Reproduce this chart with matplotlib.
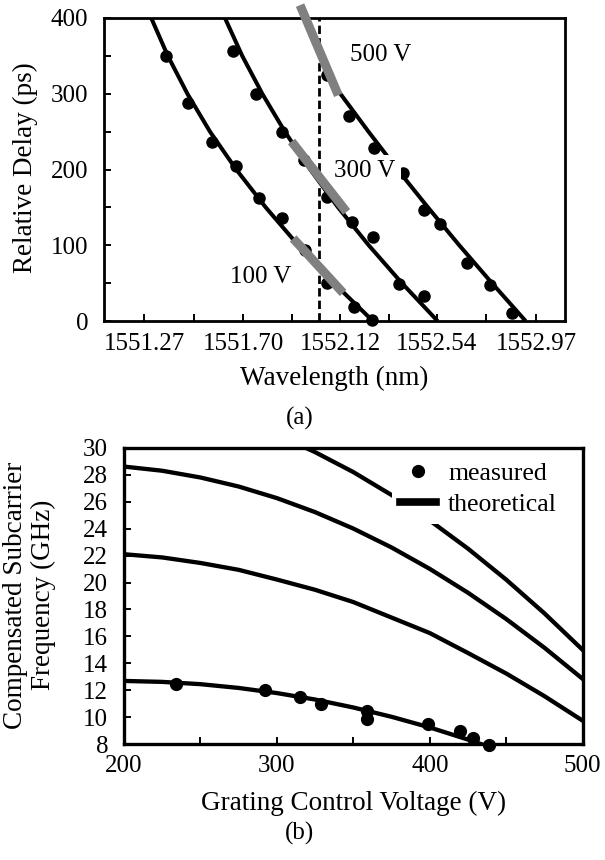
import matplotlib
matplotlib.use("Agg")
import matplotlib.pyplot as plt
from matplotlib.lines import Line2D
from matplotlib.ticker import FixedLocator, MultipleLocator

plt.rcParams["font.family"] = ["Liberation Serif", "DejaVu Serif"]

# ---------------- (a) relative delay versus wavelength ----------------
wl_ticks = [1551.27, 1551.70, 1552.12, 1552.54, 1552.97]
wl_tick_labels = ["1551.27", "1551.70", "1552.12", "1552.54", "1552.97"]

# theoretical delay curves (wavelength in nm at given delay in ps)
line100_ps = [0, 50, 100, 150, 200, 250, 300, 350, 400]
line100_wl = [1552.262, 1552.093, 1551.938, 1551.797, 1551.669, 1551.555, 1551.457, 1551.372, 1551.300]
line300_ps = [0, 50, 100, 150, 200, 250, 300, 350, 400]
line300_wl = [1552.543, 1552.388, 1552.244, 1552.111, 1551.990, 1551.880, 1551.782, 1551.695, 1551.620]
line500_ps = [0, 50, 100, 150, 200, 250, 300, 320]
line500_wl = [1552.925, 1552.779, 1552.637, 1552.501, 1552.369, 1552.243, 1552.121, 1552.072]

# measured delays
dots100_wl = [1551.364, 1551.461, 1551.565, 1551.666, 1551.767, 1551.866, 1551.967, 1552.061, 1552.181, 1552.259]
dots100_ps = [350, 288, 236, 204, 162, 136, 94, 50, 19, 1]
dots300_wl = [1551.656, 1551.753, 1551.866, 1551.964, 1552.065, 1552.172, 1552.263, 1552.375, 1552.483]
dots300_ps = [357, 300, 250, 213, 164, 131, 111, 49, 33]
dots500_wl = [1552.061, 1552.159, 1552.266, 1552.393, 1552.483, 1552.553, 1552.672, 1552.769, 1552.866]
dots500_ps = [325, 270, 228, 195, 147, 128, 77, 47.5, 10]

# local dispersion slope around the operating wavelength
slope500_wl = [1551.946, 1552.112]
slope500_ps = [417, 298]
slope300_wl = [1551.909, 1552.148]
slope300_ps = [237, 144]
slope100_wl = [1551.916, 1552.133]
slope100_ps = [109, 37]

operating_wl = 1552.03

voltage_labels = ["100 V", "300 V", "500 V"]
voltage_label_wl = [1551.777, 1552.228, 1552.297]
voltage_label_ps = [58, 198, 351]

# ---------------- (b) compensated frequency versus voltage ----------------
meas_v = [234, 292, 315, 329, 359, 359, 399, 420, 428, 439]
meas_f = [12.5, 12.0, 11.5, 11.0, 10.5, 9.9, 9.5, 9.0, 8.45, 7.95]

thA_v = [200, 225, 250, 275, 300, 325, 350, 375, 400, 425, 445]
thA_f = [12.70, 12.63, 12.46, 12.18, 11.80, 11.32, 10.73, 10.04, 9.25, 8.35, 7.56]
thB_v = [200, 225, 250, 275, 300, 325, 350, 375, 400, 425, 450, 475, 500]
thB_f = [22.10, 21.86, 21.45, 20.94, 20.22, 19.46, 18.55, 17.40, 16.25, 14.77, 13.25, 11.57, 9.75]
thC_v = [200, 225, 250, 275, 300, 325, 350, 375, 400, 425, 450, 475, 500]
thC_f = [28.60, 28.29, 27.79, 27.12, 26.26, 25.22, 24.00, 22.60, 21.01, 19.24, 17.29, 15.16, 12.85]
thD_v = [300, 325, 350, 375, 400, 425, 450, 475, 500]
thD_f = [30.96, 29.67, 28.19, 26.49, 24.60, 22.51, 20.21, 17.71, 15.00]

W, H = 605, 860
fig = plt.figure(figsize=(W / 100, H / 100), dpi=100)


def fx(px):
    return px / W


def fy(py):
    return 1 - py / H


FS = 18
LFS = 19.5
GRAY = "#808080"

# ---- panel (a) ----
ax1 = fig.add_axes([fx(104), fy(321), fx(565) - fx(104), fy(18) - fy(321)])
for wl, ps in [(line100_wl, line100_ps), (line300_wl, line300_ps), (line500_wl, line500_ps)]:
    ax1.plot(wl, ps, color="black", lw=2.9, solid_capstyle="butt", zorder=2)
for wl, ps in [(dots100_wl, dots100_ps), (dots300_wl, dots300_ps), (dots500_wl, dots500_ps)]:
    ax1.plot(wl, ps, ls="none", marker="o", ms=8, color="black", zorder=3, clip_on=False)
ax1.axvline(operating_wl, color="black", lw=2, dashes=(3, 1.5), zorder=2.5)
for wl, ps in [(slope500_wl, slope500_ps), (slope300_wl, slope300_ps), (slope100_wl, slope100_ps)]:
    ax1.plot(wl, ps, color=GRAY, lw=6.5, solid_capstyle="butt", zorder=6, clip_on=False)
for txt, x, y in zip(voltage_labels, voltage_label_wl, voltage_label_ps):
    ax1.text(x, y, txt, fontsize=FS, ha="center", va="center", zorder=5,
             bbox=dict(boxstyle="square,pad=0.2", fc="white", ec="none"))

ax1.set_xlim(1551.095, 1553.096)
ax1.set_ylim(0, 400)
ax1.xaxis.set_major_locator(FixedLocator(wl_ticks))
ax1.set_xticklabels(wl_tick_labels)
mids = [(a + b) / 2 for a, b in zip(wl_ticks[:-1], wl_ticks[1:])]
ax1.xaxis.set_minor_locator(FixedLocator(mids))
ax1.yaxis.set_major_locator(MultipleLocator(100))
ax1.yaxis.set_minor_locator(MultipleLocator(50))
ax1.tick_params(which="both", direction="in", length=5, width=1.4, top=False, right=False)
ax1.tick_params(axis="x", which="major", labelsize=FS, pad=8.5)
ax1.tick_params(axis="y", which="major", labelsize=FS, pad=11.5)
for s in ax1.spines.values():
    s.set_linewidth(2.0)

fig.text(fx(334.5), fy(385), "Wavelength (nm)", fontsize=LFS, ha="center", va="baseline")
fig.text(fx(300), fy(425), "(a)", fontsize=FS, ha="center", va="baseline")
fig.text(fx(32), fy(168), "Relative Delay (ps)", fontsize=LFS, rotation=90,
         rotation_mode="anchor", ha="center", va="baseline")

# ---- panel (b) ----
ax2 = fig.add_axes([fx(124), fy(744.3), fx(582.7) - fx(124), fy(447.7) - fy(744.3)])
for v, f in [(thA_v, thA_f), (thB_v, thB_f), (thC_v, thC_f), (thD_v, thD_f)]:
    ax2.plot(v, f, color="black", lw=3.1, zorder=2)
ax2.plot(meas_v, meas_f, ls="none", marker="o", ms=8.5, color="black", zorder=3, clip_on=False)

ax2.set_xlim(200, 500)
ax2.set_ylim(8, 30)
ax2.xaxis.set_major_locator(MultipleLocator(100))
ax2.xaxis.set_minor_locator(MultipleLocator(50))
ax2.yaxis.set_major_locator(MultipleLocator(2))
ax2.tick_params(which="both", direction="in", length=5, width=1.4, top=False, right=False)
ax2.tick_params(axis="x", which="major", labelsize=FS, pad=7.5)
ax2.tick_params(axis="y", which="major", labelsize=FS, pad=11.5)
for s in ax2.spines.values():
    s.set_linewidth(2.4)

handles = [Line2D([], [], ls="none", marker="o", ms=8.5, color="black"),
           Line2D([], [], color="black", lw=5.5)]
leg = ax2.legend(handles, ["measured", "theoretical"], loc="upper left",
                 bbox_to_anchor=(0.585, 0.977), fontsize=FS + 0.5, frameon=True,
                 facecolor="white", edgecolor="none", framealpha=1, fancybox=False,
                 borderpad=0.3, handlelength=1.4, handletextpad=0.47, labelspacing=0.3,
                 borderaxespad=0)
leg.set_zorder(5)

fig.text(fx(353.5), fy(810), "Grating Control Voltage (V)", fontsize=LFS, ha="center", va="baseline")
fig.text(fx(300), fy(840), "(b)", fontsize=FS, ha="center", va="baseline")
fig.text(fx(22), fy(595), "Compensated Subcarrier", fontsize=LFS, rotation=90,
         rotation_mode="anchor", ha="center", va="baseline")
fig.text(fx(50), fy(595), "Frequency (GHz)", fontsize=LFS, rotation=90,
         rotation_mode="anchor", ha="center", va="baseline")

fig.savefig("out.png", dpi=100)
